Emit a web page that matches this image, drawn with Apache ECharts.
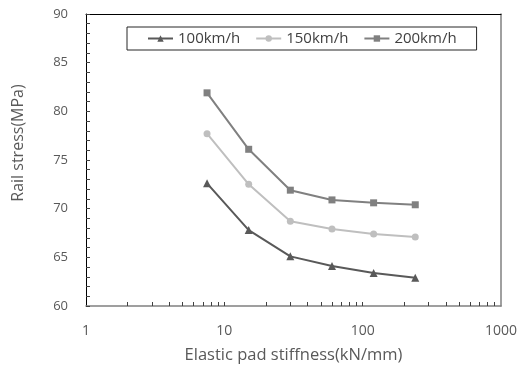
<!DOCTYPE html>
<html>
<head>
<meta charset="utf-8">
<script src="https://cdn.jsdelivr.net/npm/echarts@6/dist/echarts.min.js"></script>
<style>
  html, body { margin: 0; padding: 0; background: #fff; }
  #chart { width: 520px; height: 367px; }
</style>
</head>
<body>
<div id="chart"></div>
<script>
// pad stiffness (kN/mm) and rail stress (MPa) per train speed
const stiffness = [7.5, 15, 30, 60, 120, 240];
const speed100 = [72.6, 67.8, 65.1, 64.1, 63.4, 62.9];
const speed150 = [77.7, 72.5, 68.7, 67.9, 67.4, 67.1];
const speed200 = [81.9, 76.1, 71.9, 70.9, 70.6, 70.4];
const seriesNames = ['100km/h', '150km/h', '200km/h'];
const minorX = [2, 3, 4, 5, 6, 7, 8, 9, 10, 20, 30, 40, 50, 60, 70, 80, 90, 100, 200, 300, 400, 500, 600, 700, 800, 900];

const chart = echarts.init(document.getElementById('chart'));

const pair = (ys) => ys.map((y, i) => [stiffness[i], y]);
const font = 'Open Sans, Noto Sans, sans-serif';

const option = {
  animation: false,
  grid: { left: 86, right: 19, top: 14, bottom: 61, outerBoundsMode: 'none' },
  legend: {
    data: seriesNames,
    left: 127,
    top: 27,
    padding: [4, 20, 4, 20],
    itemWidth: 25,
    itemHeight: 8,
    itemGap: 15,
    borderColor: '#262626',
    borderWidth: 1,
    textStyle: { fontFamily: font, fontSize: 15, color: '#404040' }
  },
  xAxis: [{
    type: 'log',
    logBase: 10,
    min: 1,
    max: 1000,
    name: 'Elastic pad stiffness(kN/mm)',
    nameLocation: 'middle',
    nameGap: 41,
    nameTextStyle: { fontFamily: font, fontSize: 16.5, color: '#595959' },
    axisLine: { lineStyle: { color: '#808080', width: 1.5 } },
    axisTick: { inside: true, length: 4, customValues: minorX, lineStyle: { color: '#404040' } },
    minorTick: { show: false },
    axisLabel: { fontFamily: font, fontSize: 14, color: '#595959', margin: 18, formatter: (v) => String(v) },
    splitLine: { show: false }
  }, {
    type: 'log',
    position: 'top',
    min: 1,
    max: 1000,
    axisLine: { lineStyle: { color: '#000', width: 1 } },
    axisTick: { show: false },
    axisLabel: { show: false },
    splitLine: { show: false }
  }],
  yAxis: [{
    type: 'value',
    min: 60,
    max: 90,
    interval: 5,
    name: 'Rail stress(MPa)',
    nameLocation: 'middle',
    nameGap: 60,
    nameTextStyle: { fontFamily: font, fontSize: 16, color: '#595959', padding: [0, 0, 0, 34] },
    axisLine: { show: true, lineStyle: { color: '#000', width: 1 } },
    axisTick: { show: true, inside: true, length: 4, lineStyle: { color: '#404040' } },
    minorTick: { show: true, splitNumber: 5, length: 4, lineStyle: { color: '#404040' } },
    axisLabel: { fontFamily: font, fontSize: 13, color: '#595959', margin: 18 },
    splitLine: { show: false }
  }, {
    type: 'value',
    position: 'right',
    min: 60,
    max: 90,
    axisLine: { show: true, lineStyle: { color: '#808080', width: 1.5 } },
    axisTick: { show: false },
    axisLabel: { show: false },
    splitLine: { show: false }
  }],
  series: [{
    name: seriesNames[0],
    type: 'line',
    data: pair(speed100),
    symbol: 'triangle',
    symbolSize: 8,
    color: '#595959',
    lineStyle: { width: 2 }
  }, {
    name: seriesNames[1],
    type: 'line',
    data: pair(speed150),
    symbol: 'circle',
    symbolSize: 7,
    color: '#bfbfbf',
    lineStyle: { width: 2 }
  }, {
    name: seriesNames[2],
    type: 'line',
    data: pair(speed200),
    symbol: 'rect',
    symbolSize: 7,
    color: '#808080',
    lineStyle: { width: 2 }
  }]
};

chart.setOption(option);
</script>
</body>
</html>
